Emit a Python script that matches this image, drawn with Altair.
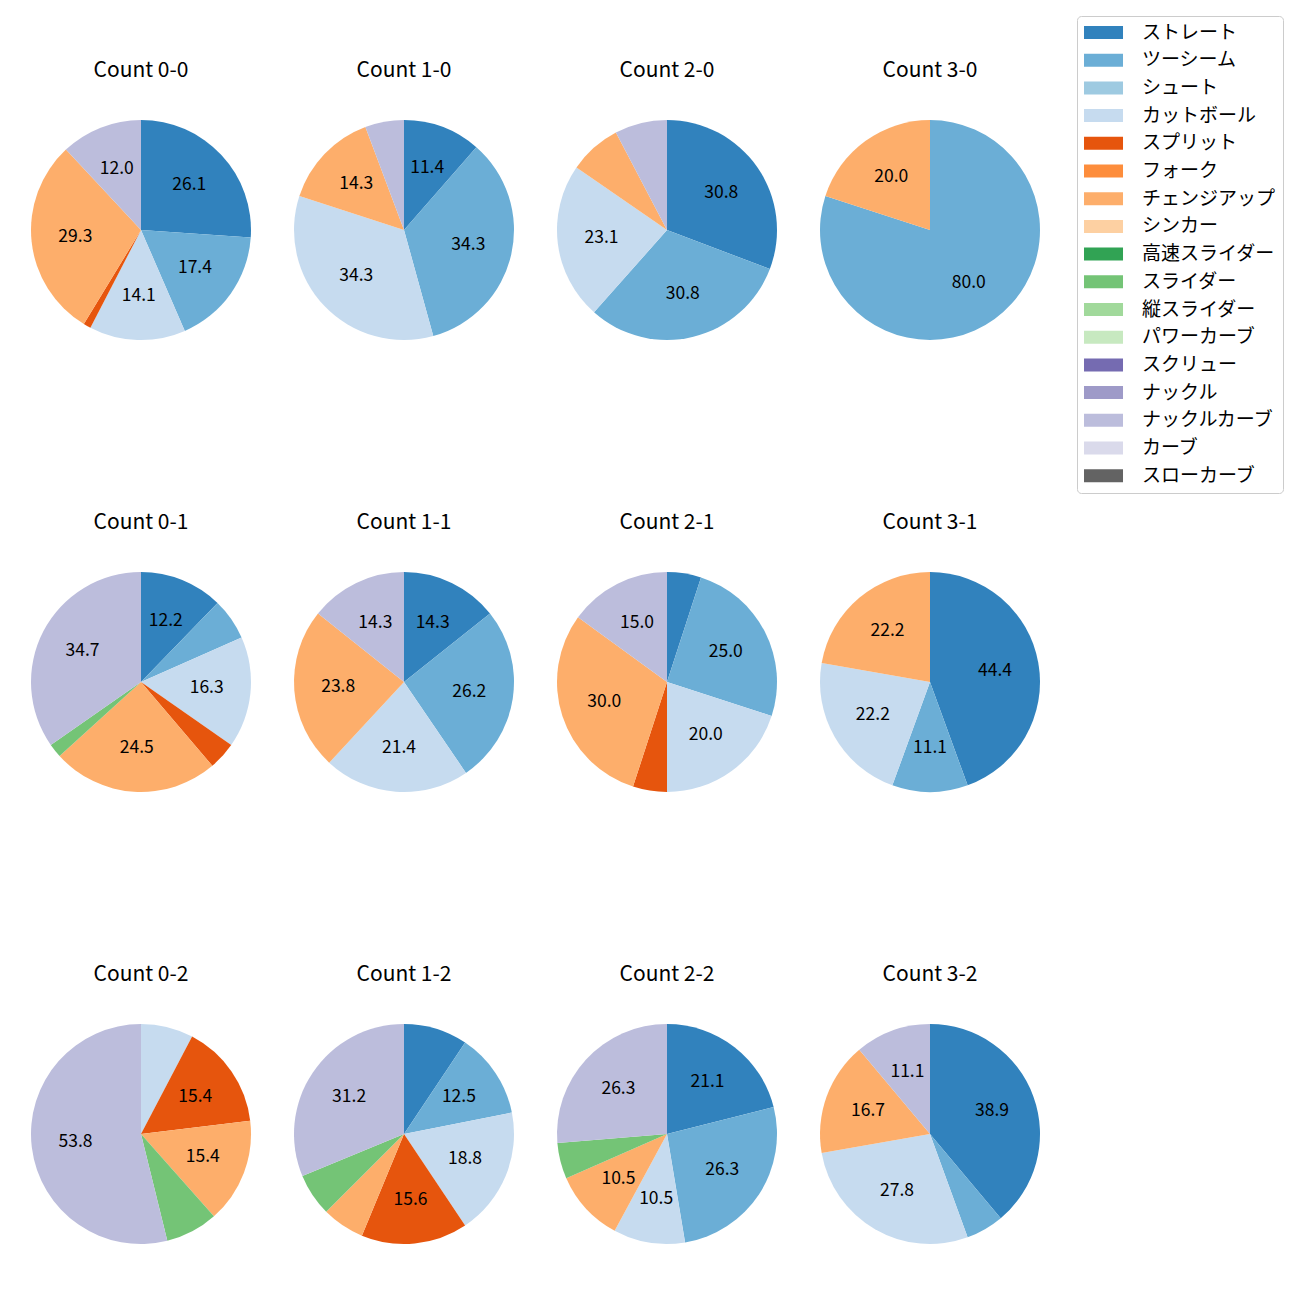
import altair as alt
import pandas as pd

FONT = "Noto Sans CJK JP"

counts = ["0-0", "1-0", "2-0", "3-0", "0-1", "1-1", "2-1", "3-1", "0-2", "1-2", "2-2", "3-2"]

pitch_types = ["ストレート", "ツーシーム", "シュート", "カットボール", "スプリット", "フォーク",
               "チェンジアップ", "シンカー", "高速スライダー", "スライダー", "縦スライダー",
               "パワーカーブ", "スクリュー", "ナックル", "ナックルカーブ", "カーブ", "スローカーブ"]
colors = ["#3182bd", "#6baed6", "#9ecae1", "#c6dbef", "#e6550d", "#fd8d3c", "#fdae6b", "#fdd0a2",
          "#31a354", "#74c476", "#a1d99b", "#c7e9c0", "#756bb1", "#9e9ac8", "#bcbddc", "#dadaeb",
          "#636363"]

# pitch counts per count situation (same order as `counts`)
straight      = [24, 4, 4, 0, 6, 6, 1, 4, 0, 3, 4, 7]
twoseam       = [16, 12, 4, 4, 3, 11, 5, 1, 0, 4, 5, 1]
cutter        = [13, 12, 3, 0, 8, 9, 4, 2, 1, 6, 2, 5]
splitter      = [1, 0, 0, 0, 2, 0, 1, 0, 2, 5, 0, 0]
changeup      = [27, 5, 1, 1, 12, 10, 6, 2, 2, 2, 2, 3]
slider        = [0, 0, 0, 0, 1, 0, 0, 0, 1, 2, 1, 0]
knuckle_curve = [11, 2, 1, 0, 17, 6, 3, 0, 7, 10, 5, 2]

series = {
    "ストレート": straight,
    "ツーシーム": twoseam,
    "カットボール": cutter,
    "スプリット": splitter,
    "チェンジアップ": changeup,
    "スライダー": slider,
    "ナックルカーブ": knuckle_curve,
}

rows = []
for ci, c in enumerate(counts):
    total = sum(vals[ci] for vals in series.values())
    for pitch, vals in series.items():
        if vals[ci] > 0:
            pct = vals[ci] / total * 100
            rows.append({"title": "Count " + c, "pitch": pitch,
                         "idx": pitch_types.index(pitch), "n": vals[ci],
                         "label": f"{pct:.1f}" if pct >= 10 else ""})
df = pd.DataFrame(rows)
titles = ["Count " + c for c in counts]

base = alt.Chart(df).transform_joinaggregate(
    total="sum(n)", groupby=["title"]
).transform_calculate(
    pct="datum.n / datum.total * 100"
)

theta = alt.Theta("pct:Q", stack=True, scale=alt.Scale(domain=[0, 100]))

arcs = base.mark_arc(radius=110).encode(
    theta=theta,
    color=alt.Color(
        "pitch:N",
        scale=alt.Scale(domain=pitch_types, range=colors),
        legend=alt.Legend(
            title=None, orient="none", legendX=1046, legendY=-104,
            symbolType="M-1.46,-1 L4.54,-1 L4.54,1 L-1.46,1 Z", symbolSize=169,
            symbolStrokeWidth=0, symbolOpacity=1,
            labelFont=FONT, labelFontSize=19, labelColor="#000000",
            labelOffset=39, rowPadding=7.7, padding=7,
            strokeColor="#cccccc", fillColor="white", cornerRadius=4,
        ),
    ),
    order=alt.Order("idx:Q"),
)

texts = base.mark_text(radius=66, font=FONT, fontSize=17.5, color="black").encode(
    theta=theta,
    text="label:N",
    detail="pitch:N",
    order=alt.Order("idx:Q"),
)

chart = alt.layer(arcs, texts).properties(width=220, height=220).facet(
    facet=alt.Facet("title:N", sort=titles, title=None,
                    header=alt.Header(labelFont=FONT, labelFontSize=21, labelColor="#000000",
                                      labelPadding=39)),
    columns=4,
    spacing={"row": 172, "column": 43},
).properties(
    padding={"left": 31, "top": 15, "right": 5, "bottom": 5},
    background="white",
).configure_view(stroke=None)

chart.save("out.html", embed_options={"renderer": "svg", "actions": False})
